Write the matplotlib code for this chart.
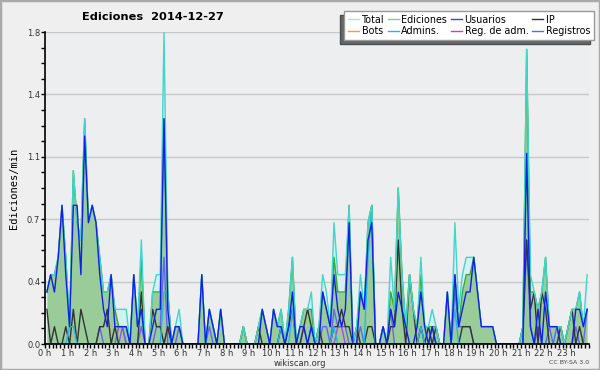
import numpy as np
import matplotlib
matplotlib.use("Agg")
import matplotlib.pyplot as plt
from matplotlib.lines import Line2D
from matplotlib.patches import Rectangle

# 10-minute bins, 24 rows of 6 values (one row per hour), edits/min
total = [
    0.3,0.4,0.4,0.5,0.8,0.5, 0.1,1.0,0.7,0.6,1.3,0.7, 0.8,0.7,0.5,0.3,0.3,0.4,
    0.2,0.2,0.2,0.2,0.0,0.4, 0.1,0.6,0.0,0.0,0.3,0.4, 0.4,1.8,0.3,0.0,0.1,0.2,
    0.0,0.0,0.0,0.0,0.0,0.4, 0.0,0.2,0.1,0.0,0.2,0.0, 0.0,0.0,0.0,0.0,0.1,0.0,
    0.0,0.0,0.1,0.2,0.1,0.0, 0.2,0.1,0.2,0.0,0.2,0.5, 0.0,0.1,0.2,0.2,0.3,0.0,
    0.1,0.4,0.3,0.1,0.7,0.4, 0.4,0.4,0.8,0.0,0.1,0.4, 0.2,0.7,0.8,0.0,0.0,0.1,
    0.0,0.5,0.2,0.9,0.4,0.1, 0.4,0.2,0.1,0.5,0.1,0.1, 0.2,0.1,0.0,0.0,0.3,0.0,
    0.7,0.2,0.4,0.5,0.5,0.5, 0.3,0.1,0.1,0.1,0.1,0.0, 0.0,0.0,0.0,0.0,0.0,0.0,
    0.1,1.7,0.4,0.3,0.2,0.3, 0.5,0.1,0.1,0.1,0.1,0.0, 0.1,0.2,0.2,0.3,0.1,0.4,
]
ediciones = [
    0.3,0.4,0.4,0.5,0.8,0.5, 0.1,1.0,0.7,0.6,1.3,0.7, 0.8,0.7,0.5,0.3,0.3,0.4,
    0.2,0.1,0.1,0.1,0.0,0.4, 0.1,0.5,0.0,0.0,0.3,0.3, 0.3,1.3,0.3,0.0,0.1,0.1,
    0.0,0.0,0.0,0.0,0.0,0.4, 0.0,0.2,0.1,0.0,0.2,0.0, 0.0,0.0,0.0,0.0,0.1,0.0,
    0.0,0.0,0.1,0.2,0.1,0.0, 0.2,0.1,0.2,0.0,0.2,0.5, 0.0,0.1,0.2,0.2,0.2,0.0,
    0.1,0.3,0.2,0.1,0.5,0.3, 0.3,0.3,0.8,0.0,0.1,0.3, 0.2,0.7,0.8,0.0,0.0,0.1,
    0.0,0.3,0.2,0.9,0.4,0.1, 0.4,0.2,0.1,0.4,0.1,0.1, 0.1,0.1,0.0,0.0,0.3,0.0,
    0.4,0.1,0.3,0.4,0.4,0.5, 0.3,0.1,0.1,0.1,0.1,0.0, 0.0,0.0,0.0,0.0,0.0,0.0,
    0.1,1.7,0.3,0.3,0.2,0.3, 0.5,0.1,0.1,0.1,0.1,0.0, 0.1,0.2,0.2,0.3,0.1,0.2,
]
usuarios = [
    0.3,0.4,0.3,0.5,0.8,0.4, 0.1,0.8,0.8,0.4,1.2,0.7, 0.8,0.7,0.4,0.2,0.1,0.4,
    0.1,0.1,0.1,0.1,0.0,0.4, 0.1,0.2,0.0,0.0,0.1,0.2, 0.2,1.3,0.2,0.0,0.1,0.1,
    0.0,0.0,0.0,0.0,0.0,0.4, 0.0,0.2,0.1,0.0,0.2,0.0, 0.0,0.0,0.0,0.0,0.0,0.0,
    0.0,0.0,0.0,0.2,0.1,0.0, 0.2,0.1,0.1,0.0,0.1,0.3, 0.0,0.1,0.1,0.0,0.1,0.0,
    0.0,0.3,0.2,0.1,0.4,0.2, 0.1,0.2,0.7,0.0,0.0,0.3, 0.2,0.6,0.7,0.0,0.0,0.1,
    0.0,0.2,0.1,0.3,0.2,0.1, 0.0,0.0,0.1,0.3,0.1,0.0, 0.1,0.0,0.0,0.0,0.3,0.0,
    0.4,0.1,0.2,0.3,0.3,0.5, 0.3,0.1,0.1,0.1,0.1,0.0, 0.0,0.0,0.0,0.0,0.0,0.0,
    0.0,1.1,0.1,0.0,0.2,0.0, 0.3,0.1,0.1,0.1,0.0,0.0, 0.0,0.0,0.2,0.2,0.1,0.2,
]
ip = [
    0.2,0.0,0.1,0.0,0.0,0.1, 0.0,0.2,0.0,0.2,0.1,0.0, 0.0,0.0,0.1,0.1,0.2,0.0,
    0.1,0.0,0.0,0.0,0.0,0.0, 0.0,0.3,0.0,0.0,0.2,0.1, 0.1,0.0,0.1,0.0,0.0,0.0,
    0.0,0.0,0.0,0.0,0.0,0.0, 0.0,0.0,0.0,0.0,0.0,0.0, 0.0,0.0,0.0,0.0,0.1,0.0,
    0.0,0.0,0.1,0.0,0.0,0.0, 0.0,0.0,0.1,0.0,0.1,0.2, 0.0,0.0,0.1,0.2,0.1,0.0,
    0.1,0.0,0.0,0.0,0.1,0.1, 0.2,0.1,0.1,0.0,0.1,0.0, 0.0,0.1,0.1,0.0,0.0,0.0,
    0.0,0.1,0.1,0.6,0.2,0.0, 0.4,0.2,0.0,0.1,0.0,0.1, 0.0,0.1,0.0,0.0,0.0,0.0,
    0.0,0.0,0.1,0.1,0.1,0.0, 0.0,0.0,0.0,0.0,0.0,0.0, 0.0,0.0,0.0,0.0,0.0,0.0,
    0.1,0.6,0.2,0.3,0.0,0.3, 0.2,0.0,0.0,0.0,0.1,0.0, 0.1,0.2,0.0,0.1,0.0,0.0,
]
admins = [
    0.0,0.0,0.0,0.0,0.0,0.0, 0.1,0.1,0.0,0.0,0.0,0.0, 0.0,0.0,0.0,0.0,0.0,0.0,
    0.0,0.0,0.0,0.0,0.0,0.0, 0.0,0.0,0.0,0.0,0.0,0.0, 0.0,0.3,0.3,0.0,0.0,0.0,
    0.0,0.0,0.0,0.0,0.0,0.0, 0.0,0.0,0.0,0.0,0.0,0.0, 0.0,0.0,0.0,0.0,0.0,0.0,
    0.0,0.0,0.0,0.0,0.0,0.0, 0.0,0.0,0.1,0.0,0.0,0.2, 0.0,0.0,0.0,0.0,0.1,0.0,
    0.0,0.0,0.0,0.0,0.1,0.0, 0.0,0.0,0.0,0.0,0.0,0.0, 0.0,0.5,0.8,0.0,0.0,0.0,
    0.0,0.0,0.0,0.0,0.0,0.0, 0.0,0.0,0.0,0.1,0.0,0.0, 0.0,0.0,0.0,0.0,0.0,0.0,
    0.2,0.0,0.0,0.0,0.0,0.0, 0.0,0.0,0.0,0.0,0.0,0.0, 0.0,0.0,0.0,0.0,0.0,0.0,
    0.0,0.0,0.0,0.0,0.0,0.0, 0.0,0.0,0.0,0.0,0.0,0.0, 0.0,0.0,0.0,0.0,0.0,0.0,
]
registros = [
    0.0,0.0,0.0,0.0,0.0,0.0, 0.0,0.0,0.0,0.0,0.0,0.0, 0.0,0.0,0.1,0.0,0.0,0.0,
    0.0,0.1,0.1,0.0,0.0,0.0, 0.0,0.1,0.0,0.0,0.0,0.1, 0.1,0.5,0.0,0.0,0.0,0.1,
    0.0,0.0,0.0,0.0,0.0,0.0, 0.0,0.1,0.0,0.0,0.0,0.0, 0.0,0.0,0.0,0.0,0.0,0.0,
    0.0,0.0,0.0,0.0,0.0,0.0, 0.0,0.0,0.1,0.0,0.0,0.0, 0.0,0.0,0.1,0.0,0.1,0.0,
    0.0,0.1,0.1,0.0,0.2,0.1, 0.1,0.1,0.0,0.0,0.0,0.1, 0.0,0.0,0.0,0.0,0.0,0.1,
    0.0,0.2,0.0,0.0,0.0,0.0, 0.0,0.0,0.0,0.1,0.0,0.0, 0.1,0.0,0.0,0.0,0.0,0.0,
    0.3,0.1,0.1,0.1,0.1,0.0, 0.0,0.0,0.0,0.0,0.0,0.0, 0.0,0.0,0.0,0.0,0.0,0.0,
    0.0,0.6,0.1,0.0,0.1,0.0, 0.0,0.1,0.0,0.1,0.0,0.0, 0.0,0.0,0.1,0.0,0.0,0.2,
]
reg_adm = [0.0] * 144
reg_adm_idx = [20, 32, 77, 78]
bots = [0.0] * 144
for _i in reg_adm_idx:
    reg_adm[_i] = 0.1

hour_labels = [f"{h} h" for h in range(24)]
y_ticks = [0.0, 0.36, 0.72, 1.08, 1.44, 1.8]
y_tick_labels = ["0.0", "0.4", "0.7", "1.1", "1.4", "1.8"]

x = (np.arange(144) + 0.5) / 6.0

fig = plt.figure(figsize=(6.0, 3.7), dpi=100, facecolor="#efefef")
ax = fig.add_axes([45/600, 1-344/370, 544/600, 312/370])
ax.set_facecolor("#eceef0")

c_total = "#3fd6cc"
c_edit = "#33aa33"
c_user = "#1020e8"
c_ip = "#333333"
c_adm = "#22b8e6"
c_reg = "#6464f0"
c_regadm = "#c040e0"
c_bots = "#ff9a30"

ax.fill_between(x, total, 0, color="#d6efef", lw=0, zorder=1)
ax.fill_between(x, ediciones, 0, color="#99cc99", lw=0, zorder=2)
lw = 1.0
ax.plot(x, bots, color=c_bots, lw=lw, zorder=3)
ax.plot(x, reg_adm, color=c_regadm, lw=lw, zorder=3)
ax.plot(x, registros, color=c_reg, lw=lw, zorder=4)
ax.plot(x, ip, color=c_ip, lw=lw, zorder=5)
ax.plot(x, admins, color=c_adm, lw=lw, zorder=5)
ax.plot(x, ediciones, color=c_edit, lw=lw, zorder=6)
ax.plot(x, total, color=c_total, lw=lw, zorder=7)
ax.plot(x, usuarios, color=c_user, lw=lw, zorder=8)

ax.set_xlim(0, 24)
ax.set_ylim(0, 1.8)
ax.set_yticks(y_ticks)
ax.set_yticklabels(y_tick_labels)
ax.set_yticks(np.arange(0, 1.8001, 0.09), minor=True)
ax.set_xticks(np.arange(24))
ax.set_xticklabels(hour_labels)
ax.set_xticks(np.arange(0, 24.001, 1/6), minor=True)
ax.tick_params(axis="both", which="both", direction="out", length=3, width=1,
               color="black", labelsize=6, labelcolor="#333333", pad=0.5)
ax.grid(axis="y", which="major", color="#c8c8c8", lw=1, zorder=0)
ax.set_axisbelow(True)
for s in ["top", "right"]:
    ax.spines[s].set_visible(False)
for s in ["left", "bottom"]:
    ax.spines[s].set_color("black")
    ax.spines[s].set_linewidth(1.2)
    ax.spines[s].set_zorder(10)

ax.set_ylabel("Ediciones/min", fontsize=7.5, family="DejaVu Sans Mono", labelpad=6)

fig.text(153/600, 1-17/370, "Ediciones  2014-12-27", fontsize=8.2, fontweight="bold",
         ha="center", va="center")
fig.text(300/600, 1-363/370, "wikiscan.org", fontsize=6, ha="center", va="center",
         color="#333333")
fig.text(589/600, 1-363/370, "CC BY-SA 3.0", fontsize=4.5, ha="right", va="center",
         color="#444444")

handles = [
    Line2D([], [], color="#a8e6e0", lw=1), Line2D([], [], color=c_bots, lw=1),
    Line2D([], [], color="#88cc88", lw=1), Line2D([], [], color=c_adm, lw=1),
    Line2D([], [], color="#4040e0", lw=1), Line2D([], [], color=c_regadm, lw=1),
    Line2D([], [], color=c_ip, lw=1), Line2D([], [], color=c_reg, lw=1),
]
labels = ["Total", "Bots", "Ediciones", "Admins.", "Usuarios", "Reg. de adm.",
          "IP", "Registros"]
leg = fig.legend(handles, labels, ncol=4, loc="upper right",
                 bbox_to_anchor=(594/600, 1-11/370), fontsize=6.9,
                 handlelength=1.1, handletextpad=0.3, columnspacing=0.4,
                 labelspacing=0.15, borderpad=0.4, borderaxespad=0, frameon=True,
                 fancybox=False, framealpha=1, edgecolor="#999999", facecolor="white",
                 shadow={"ox": -3, "oy": -3, "facecolor": "#666666", "alpha": 1.0})

fig.patches.append(Rectangle((0, 0), 1, 1, transform=fig.transFigure, fill=False,
                             edgecolor="#aaaaaa", lw=2.5))

fig.savefig("out.png", dpi=100, facecolor=fig.get_facecolor())
